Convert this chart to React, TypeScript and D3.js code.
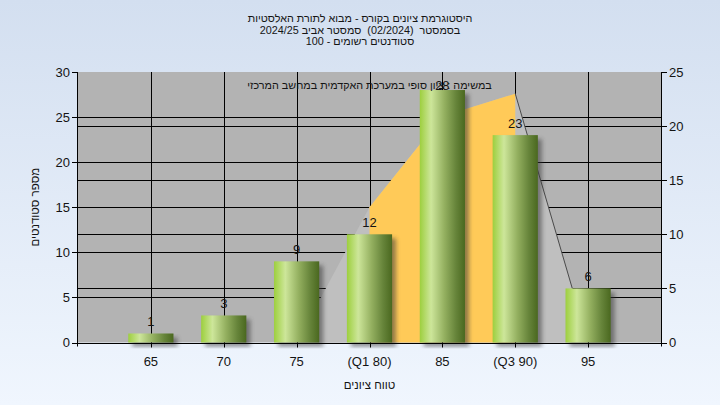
import React from 'react';
import * as d3 from 'd3';

const categories = [65, 70, 75, 80, 85, 90, 95];
const categoryLabels = ['65', '70', '75', '(Q1 80)', '85', '(Q3 90)', '95'];
const counts = [1, 3, 9, 12, 28, 23, 6];
const areaX = [75, 80, 85, 90, 95];
const areaY = [0, 12.5, 20.9, 23, 0];
const iqrX = [80, 85, 90];
const iqrY = [12.5, 20.9, 23];
const leftTicks = [0, 5, 10, 15, 20, 25, 30];
const rightTicks = [0, 5, 10, 15, 20, 25];
const titleLines = [
  'היסטוגרמת ציונים בקורס - מבוא לתורת האלסטיות',
  'בסמסטר  (02/2024)  סמסטר אביב 2024/25',
  'סטודנטים רשומים - 100',
];
const subtitle = 'במשימה : ציון סופי במערכת האקדמית במחשב המרכזי';
const xTitle = 'טווח ציונים';
const yTitle = 'מספר סטודנטים';

const W = 720;
const H = 405;
const P = { left: 78, right: 661, top: 72, bottom: 342.5 };
const FONT = 'Liberation Sans, Arial, DejaVu Sans, sans-serif';
const TXT = '#141414';
const TITLE_SIZE = 10.8;

export default function App() {
  const x = d3.scaleLinear().domain([60, 100]).range([P.left, P.right]);
  const yL = d3.scaleLinear().domain([0, 30]).range([P.bottom, P.top]);
  const yR = d3.scaleLinear().domain([0, 25]).range([P.bottom, P.top]);
  const crisp = (v: number) => Math.round(v) + 0.5;
  const bw = (x(65) - x(60)) * 0.62;

  const areaGen = d3
    .area<[number, number]>()
    .x((d) => x(d[0]))
    .y0(yR(0))
    .y1((d) => yR(d[1]));
  const areaPts = areaX.map((v, i) => [v, areaY[i]] as [number, number]);
  const iqrPts = iqrX.map((v, i) => [v, iqrY[i]] as [number, number]);
  const edgeLine = d3
    .line<[number, number]>()
    .x((d) => x(d[0]))
    .y((d) => yR(d[1]));

  return (
    <svg
      width={W}
      height={H}
      style={{ position: 'absolute', left: 0, top: 0, fontFamily: FONT }}
    >
      <defs>
        <linearGradient id="bg" x1="0" y1="0" x2="0" y2="1">
          <stop offset="0" stopColor="#d3dff0" />
          <stop offset="1" stopColor="#f0f6fe" />
        </linearGradient>
        <linearGradient id="bar" x1="0" y1="0" x2="1" y2="0">
          <stop offset="0" stopColor="#9dcf3e" />
          <stop offset="0.25" stopColor="#cde69a" />
          <stop offset="0.55" stopColor="#93af5f" />
          <stop offset="0.8" stopColor="#66843a" />
          <stop offset="1" stopColor="#4a681f" />
        </linearGradient>
        <filter id="blur" x="-30%" y="-30%" width="160%" height="160%">
          <feGaussianBlur stdDeviation="2" />
        </filter>
        <clipPath id="plotClip">
          <rect x={P.left} y={P.top} width={P.right - P.left} height={P.bottom - P.top + 6} />
        </clipPath>
      </defs>

      <rect x={0} y={0} width={W} height={H} fill="url(#bg)" />
      <rect x={P.left} y={P.top} width={P.right - P.left} height={P.bottom - P.top} fill="#b3b3b3" />

      {/* grid lines */}
      <g stroke="#000" strokeWidth={1}>
        {leftTicks.slice(1, -1).map((t) => (
          <line key={'gl' + t} x1={P.left} x2={P.right} y1={crisp(yL(t))} y2={crisp(yL(t))} />
        ))}
        {rightTicks.slice(1, -1).map((t) => (
          <line key={'gr' + t} x1={P.left} x2={P.right} y1={crisp(yR(t))} y2={crisp(yR(t))} />
        ))}
        {categories.map((c) => (
          <line key={'gx' + c} x1={crisp(x(c))} x2={crisp(x(c))} y1={P.top} y2={P.bottom} />
        ))}
      </g>

      {/* distribution area */}
      <path d={areaGen(areaPts) || ''} fill="#bfbfbf" />
      <path d={areaGen(iqrPts) || ''} fill="#ffca58" />
      <path d={edgeLine(areaPts.slice(3)) || ''} fill="none" stroke="#4a4a4a" strokeWidth={1} />

      {/* bars */}
      <g clipPath="url(#plotClip)">
        {categories.map((c, i) => (
          <rect
            key={'s' + c}
            x={x(c) - bw / 2 + 4}
            y={yL(counts[i]) + 4}
            width={bw}
            height={P.bottom - yL(counts[i])}
            fill="#3a3a3a"
            opacity={0.55}
            filter="url(#blur)"
          />
        ))}
      </g>
      {categories.map((c, i) => (
        <rect
          key={'b' + c}
          x={x(c) - bw / 2}
          y={yL(counts[i])}
          width={bw}
          height={P.bottom - yL(counts[i])}
          fill="url(#bar)"
        />
      ))}

      {/* value labels */}
      {categories.map((c, i) => (
        <text
          key={'v' + c}
          x={x(c)}
          y={Math.max(yL(counts[i]) - 7, P.top + 18)}
          textAnchor="middle"
          fontSize={13}
          fill={TXT}
        >
          {counts[i]}
        </text>
      ))}

      {/* axes */}
      <g stroke="#000" strokeWidth={1}>
        <line x1={crisp(P.left) - 1} x2={crisp(P.left) - 1} y1={P.top} y2={P.bottom + 4} />
        <line x1={crisp(P.right)} x2={crisp(P.right)} y1={P.top} y2={P.bottom + 4} />
        <line x1={P.left} x2={P.right} y1={crisp(P.bottom)} y2={crisp(P.bottom)} />
        {leftTicks.map((t) => (
          <line key={'tl' + t} x1={P.left - 6} x2={P.left} y1={crisp(yL(t))} y2={crisp(yL(t))} />
        ))}
        {rightTicks.map((t) => (
          <line key={'tr' + t} x1={P.right} x2={P.right + 6} y1={crisp(yR(t))} y2={crisp(yR(t))} />
        ))}
        {categories.map((c) => (
          <line key={'tx' + c} x1={crisp(x(c))} x2={crisp(x(c))} y1={P.bottom} y2={P.bottom + 5} />
        ))}
      </g>
      {leftTicks.map((t) => (
        <text key={'ll' + t} x={P.left - 8} y={yL(t) + 4.5} textAnchor="end" fontSize={13} fill={TXT}>
          {t}
        </text>
      ))}
      {rightTicks.map((t) => (
        <text key={'rl' + t} x={P.right + 8} y={yR(t) + 4.5} textAnchor="start" fontSize={13} fill={TXT}>
          {t}
        </text>
      ))}
      {categories.map((c, i) => (
        <text key={'xl' + c} x={x(c)} y={366} textAnchor="middle" fontSize={13} fill={TXT}>
          {categoryLabels[i]}
        </text>
      ))}

      {/* titles (natural right-to-left text) */}
      {titleLines.map((t, i) => (
        <text
          key={'t' + i}
          x={W / 2}
          y={22 + i * 11.5}
          direction="rtl"
          textAnchor="middle"
          fontSize={TITLE_SIZE}
          fill={TXT}
          style={{ whiteSpace: 'pre' }}
        >
          {t}
        </text>
      ))}
      <text x={(P.left + P.right) / 2} y={88.5} direction="rtl" textAnchor="middle" fontSize={10.8} fill={TXT}>
        {subtitle}
      </text>
      <text x={(P.left + P.right) / 2} y={389} direction="rtl" textAnchor="middle" fontSize={11.5} fill={TXT}>
        {xTitle}
      </text>
      <text
        transform={`translate(39, ${(P.top + P.bottom) / 2}) rotate(-90)`}
        direction="rtl"
        textAnchor="middle"
        fontSize={11.5}
        fill={TXT}
      >
        {yTitle}
      </text>
    </svg>
  );
}
